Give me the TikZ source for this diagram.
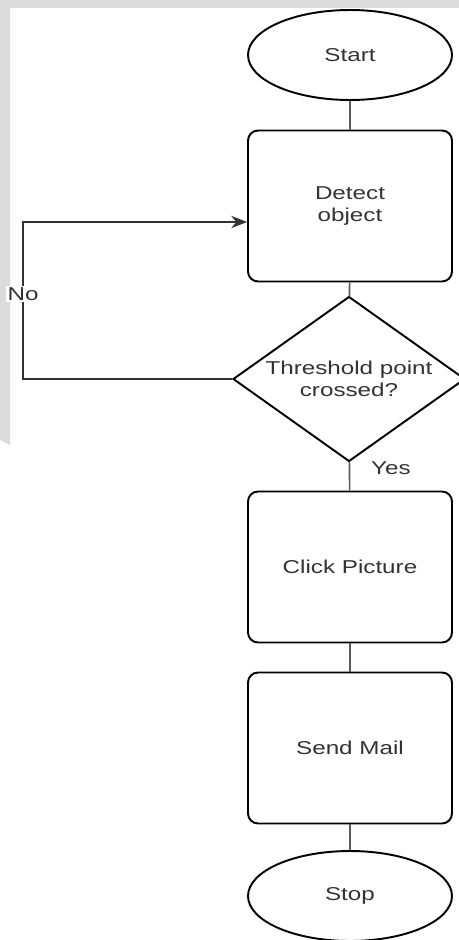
\documentclass[tikz,border=0pt]{standalone}
\usepackage{fontspec}
\setmainfont{Liberation Sans}[FakeStretch=1.3]
\usetikzlibrary{shapes.geometric}
\usetikzlibrary{arrows.meta}

\tikzset{
  txt/.style={text=black!80, font=\fontsize{10.6}{12.5}\selectfont, align=center},
  term/.style={txt, draw=black, line width=1.1pt, ellipse, minimum width=4.08cm, minimum height=1.8cm},
  procbox/.style={txt, draw=black, line width=1.1pt, rounded corners=0.2cm, minimum width=4.08cm, minimum height=3.02cm},
  decide/.style={txt, draw=black, line width=1.1pt, diamond, aspect=1.4, inner sep=0pt, minimum width=4.64cm, minimum height=3.3cm},
  link/.style={draw=black!65, line width=0.9pt},
  back/.style={draw=black!80, line width=0.8pt, -{Stealth[length=9pt,width=7pt]}}
}

\begin{document}
\begin{tikzpicture}[x=0.02cm, y=-0.02cm]

\useasboundingbox (0,0) rectangle (459,940);
\fill[white] (0,0) rectangle (459,940);

% watermark strips
\fill[black!14] (0,0) rectangle (459,8);
\fill[black!14] (0,8) -- (10,8) -- (10,445) -- (0,440) -- cycle;

\node[term]    (start)  at (350,55)  {Start};
\node[procbox] (detect) at (350,206) {Detect\\object};
\node[decide]  (thresh) at (349,379) {Threshold point\\crossed?};
\node[procbox] (click)  at (350,567) {Click Picture};
\node[procbox] (mail)   at (350,748) {Send Mail};
\node[term]    (stop)   at (350,896) {Stop};

\coordinate (nolow) at (23,379);
\coordinate (nohigh) at (23,222);

\draw[link] (start) -- (detect);
\draw[link] (detect) -- (thresh);
\draw[link] (thresh) -- (click) node[txt, pos=0.2, anchor=west, xshift=0.3cm] {Yes};
\draw[link] (click) -- (mail);
\draw[link] (mail) -- (stop);

\draw[back] (thresh.west) -- (nolow) -- node[txt, fill=white, inner sep=1pt, pos=0.54] {No} (nohigh) -- (detect.west |- nohigh);

\end{tikzpicture}
\end{document}
